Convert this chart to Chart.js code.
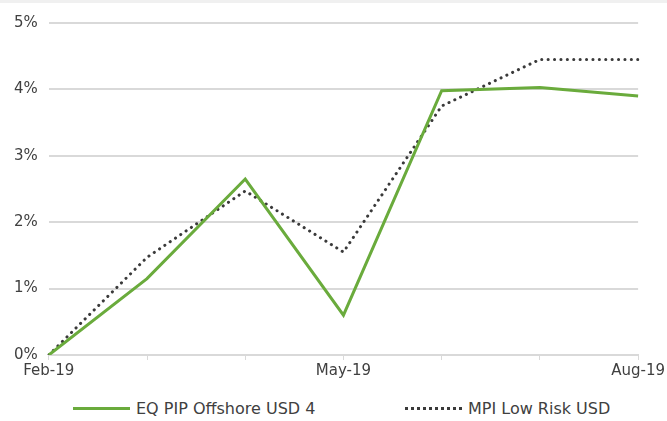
<!DOCTYPE html>
<html>
<head>
<meta charset="utf-8">
<script src="https://cdn.jsdelivr.net/npm/chart.js@4"></script>
<style>
    html, body { margin: 0; padding: 0; background: #ffffff; }
    body { border-top: 3px solid #f0f0f0; }
    #wrap { width: 667px; height: 388px; position: relative; }
    #legend { position: relative; width: 667px; height: 30px; font-family: 'DejaVu Sans'; font-size: 16px; color: #404040; }
    .item { position: absolute; top: 8px; display: flex; align-items: center; white-space: nowrap; }
    .swatch { width: 57px; height: 0; margin-right: 6px; }
</style>
</head>
<body>
<div id="wrap"><canvas id="myChart"></canvas></div>
<div id="legend"></div>
<script>
const months = ['Feb-19', 'Mar-19', 'Apr-19', 'May-19', 'Jun-19', 'Jul-19', 'Aug-19'];
const shownLabels = ['Feb-19', 'May-19', 'Aug-19'];
const seriesNames = ['EQ PIP Offshore USD 4', 'MPI Low Risk USD'];
const eqPip = [0, 1.15, 2.65, 0.6, 3.98, 4.03, 3.9];
const mpiLowRisk = [0, 1.47, 2.47, 1.55, 3.75, 4.45, 4.45];
const yTicks = [0, 1, 2, 3, 4, 5];

document.addEventListener('DOMContentLoaded', function (event) {
    const ctx = document.getElementById('myChart').getContext('2d');
    const chartConfig = {
        greenColor: '#6aab3c',
        dotColor: '#3a3a3a',
        textColor: '#404040',
        gridColor: '#d9d9d9',
        font: {
            family: 'DejaVu Sans',
            size: 15,
            weight: '400'
        }
    };
    const myChart = new Chart(ctx, {
        type: 'line',
        data: {
            labels: months,
            datasets: [{
                label: seriesNames[0],
                data: eqPip,
                borderColor: chartConfig.greenColor,
                backgroundColor: chartConfig.greenColor,
                borderWidth: 3,
                pointRadius: 0,
                tension: 0
            }, {
                label: seriesNames[1],
                data: mpiLowRisk,
                borderColor: chartConfig.dotColor,
                backgroundColor: chartConfig.dotColor,
                borderWidth: 3,
                borderDash: [0.1, 6.3],
                borderCapStyle: 'round',
                pointRadius: 0,
                tension: 0
            }]
        },
        options: {
            responsive: true,
            maintainAspectRatio: false,
            animation: false,
            layout: { padding: { left: 3, right: 0, top: 5, bottom: 9 } },
            scales: {
                x: {
                    grid: {
                        display: true,
                        drawOnChartArea: false,
                        drawTicks: true,
                        tickLength: 5,
                        color: chartConfig.gridColor
                    },
                    border: { display: true, color: chartConfig.gridColor, width: 2 },
                    ticks: {
                        autoSkip: false,
                        maxRotation: 0,
                        color: chartConfig.textColor,
                        font: chartConfig.font,
                        padding: 2,
                        callback: function (val, index) {
                            const lbl = months[index];
                            return shownLabels.includes(lbl) ? lbl : '';
                        }
                    }
                },
                y: {
                    min: yTicks[0],
                    max: yTicks[yTicks.length - 1],
                    border: { display: false },
                    grid: {
                        color: chartConfig.gridColor,
                        lineWidth: 2,
                        drawTicks: false
                    },
                    ticks: {
                        stepSize: 1,
                        color: chartConfig.textColor,
                        font: chartConfig.font,
                        padding: 11,
                        callback: function (val) {
                            return val + '%';
                        }
                    }
                }
            },
            plugins: {
                legend: { display: false },
                title: { display: false },
                tooltip: { enabled: false }
            }
        }
    });

    // html legend, the dotted swatch does not survive the built-in one
    const legend = document.getElementById('legend');
    const lefts = [73, 405];
    myChart.data.datasets.forEach(function (ds, i) {
        const item = document.createElement('div');
        item.className = 'item';
        item.style.left = lefts[i] + 'px';
        const sw = document.createElement('span');
        sw.className = 'swatch';
        sw.style.borderTop = ds.borderDash ? '3px dotted ' + ds.borderColor : '3px solid ' + ds.borderColor;
        const txt = document.createElement('span');
        txt.textContent = ds.label;
        item.appendChild(sw);
        item.appendChild(txt);
        legend.appendChild(item);
    });
});
</script>
</body>
</html>
